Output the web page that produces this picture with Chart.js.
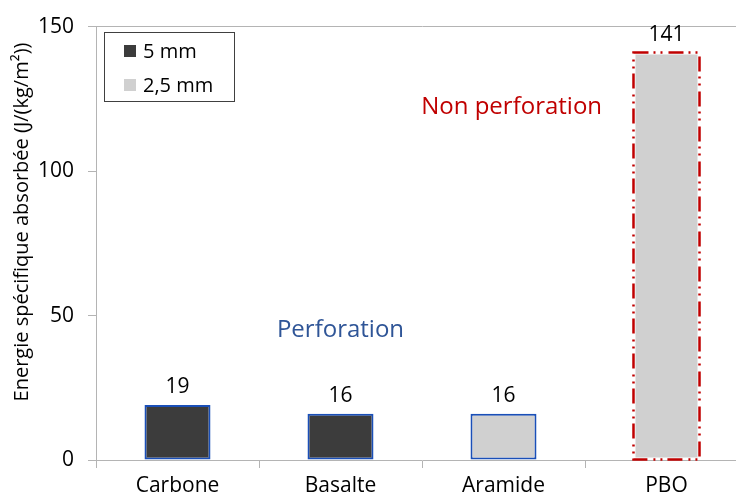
<!DOCTYPE html>
<html>
<head>
<meta charset="utf-8">
<script src="https://cdn.jsdelivr.net/npm/chart.js@4"></script>
<style>
  html, body { margin: 0; padding: 0; background: #fff; overflow: hidden; }
  #wrap { position: relative; width: 748px; height: 502px; }
  #legend {
    position: absolute; left: 104px; top: 32px; width: 129px; height: 68px;
    border: 1px solid #404040; font-family: 'Open Sans', sans-serif; font-size: 20px; color: #000;
  }
  #legend .item { position: absolute; left: 19px; display: flex; align-items: center; line-height: 24px; }
  #legend .box { width: 12px; height: 12px; margin-right: 7px; }
</style>
</head>
<body>
<div id="wrap">
  <canvas id="chart" width="748" height="502"></canvas>
  <div id="legend"></div>
</div>
<script>
// chart data
const categories = ['Carbone', 'Basalte', 'Aramide', 'PBO'];
const seriesNames = ['5 mm', '2,5 mm'];
const values5mm = [19, 16, null, null];
const values25mm = [null, null, 16, 141];
const yTicks = [0, 50, 100, 150];
const yTitle = 'Energie spécifique absorbée (J/(kg/m²))';

const darkFill = '#3c3c3c';
const lightFill = '#d0d0d0';
const blueBorder = '#1a4fb8';
const redBorder = '#c00000';
const axisGray = '#b4b4b4';

Chart.defaults.font.family = "'Open Sans', sans-serif";
Chart.defaults.color = '#000';

// legend box (top left inside plot)
const legend = document.getElementById('legend');
[darkFill, lightFill].forEach((c, i) => {
    const d = document.createElement('div');
    d.className = 'item';
    d.style.top = (i === 0 ? 6 : 40) + 'px';
    d.innerHTML = '<span class="box" style="background:' + c + '"></span><span>' + seriesNames[i] + '</span>';
    legend.appendChild(d);
});

// value labels, annotations, PBO dash-dot border, y title
const extras = {
    id: 'extras',
    afterDatasetsDraw(chart) {
        const ctx = chart.ctx;
        const x = chart.scales.x, y = chart.scales.y;
        ctx.save();
        // dash-dot-dot border around PBO bar
        const pbo = chart.getDatasetMeta(1).data[3];
        const half = pbo.width / 2;
        ctx.strokeStyle = redBorder;
        ctx.lineWidth = 2.5;
        ctx.setLineDash([15, 5, 2, 5, 2, 6]);
        ctx.strokeRect(pbo.x - half, pbo.y, pbo.width, pbo.base - pbo.y);
        ctx.setLineDash([]);

        ctx.font = '21px "Open Sans"';
        ctx.fillStyle = '#000';
        ctx.textAlign = 'center';
        ctx.textBaseline = 'alphabetic';
        chart.data.datasets.forEach((ds, di) => {
            chart.getDatasetMeta(di).data.forEach((bar, i) => {
                if (ds.data[i] == null) return;
                ctx.fillText(String(ds.data[i]), bar.x, bar.y - 12);
            });
        });

        ctx.font = '24px "Open Sans"';
        ctx.textBaseline = 'middle';
        ctx.fillStyle = '#2f5597';
        ctx.fillText('Perforation', x.getPixelForValue(1), y.getPixelForValue(45));
        ctx.fillStyle = redBorder;
        ctx.fillText('Non perforation', x.getPixelForValue(2.05), y.getPixelForValue(122));

        ctx.translate(22, 222);
        ctx.rotate(-Math.PI / 2);
        ctx.fillStyle = '#000';
        ctx.font = '20px "Open Sans"';
        ctx.fillText(yTitle, 0, 0);
        ctx.restore();
    }
};

new Chart(document.getElementById('chart'), {
    type: 'bar',
    data: {
        labels: categories,
        datasets: [{
            label: seriesNames[0],
            data: values5mm,
            backgroundColor: darkFill,
            borderColor: blueBorder,
            borderWidth: 2,
            borderSkipped: false
        }, {
            label: seriesNames[1],
            data: values25mm,
            backgroundColor: lightFill,
            borderColor: [blueBorder, blueBorder, blueBorder, 'rgba(0,0,0,0)'],
            borderWidth: 2,
            borderSkipped: false
        }]
    },
    options: {
        responsive: false,
        animation: false,
        grouped: false,
        categoryPercentage: 1,
        barPercentage: 0.405,
        layout: { padding: { top: 25, right: 0, left: 0, bottom: 0 } },
        plugins: {
            legend: { display: false },
            tooltip: { enabled: false }
        },
        scales: {
            x: {
                grid: {
                    offset: true,
                    drawOnChartArea: false,
                    tickLength: 8,
                    color: axisGray
                },
                border: { color: axisGray, width: 1 },
                ticks: { font: { size: 21 }, padding: 5, color: '#000' },
                afterFit: s => { s.height = 42; }
            },
            y: {
                min: 0,
                max: 150,
                afterBuildTicks: s => { s.ticks = yTicks.map(v => ({ value: v })); },
                grid: {
                    color: c => (c.tick && c.tick.value === 150 ? axisGray : 'rgba(0,0,0,0)'),
                    tickColor: axisGray,
                    tickLength: 8
                },
                border: { color: axisGray, width: 1 },
                ticks: { font: { size: 21 }, padding: 14, color: '#000' },
                afterFit: s => { s.width = 96; }
            }
        }
    },
    plugins: [extras]
});
</script>
</body>
</html>
